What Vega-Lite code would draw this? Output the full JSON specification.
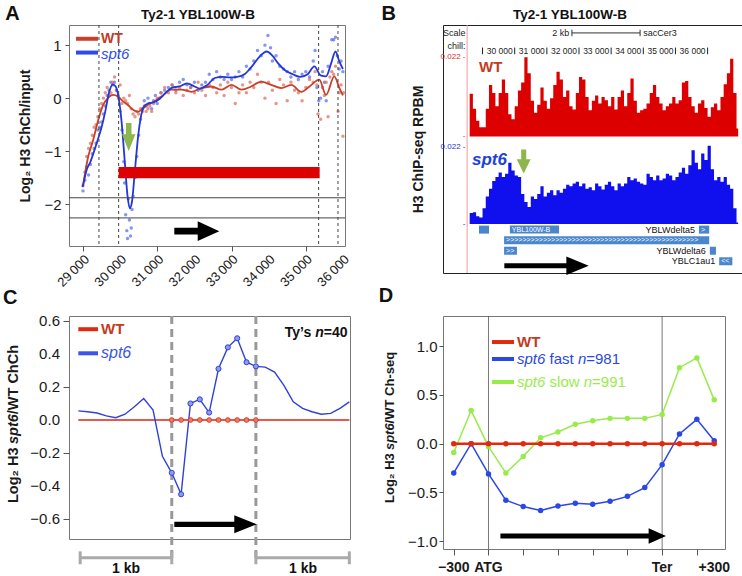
{
"$schema": "https://vega.github.io/schema/vega-lite/v6.json",
"background": "white",
"padding": {"left": 2, "top": 3, "right": 0, "bottom": 0},
"bounds": "flush",
"align": "each",
"columns": 2,
"spacing": {"row": 43, "column": 93},
"config": {
  "font": "Liberation Sans",
  "view": {"stroke": "#777"},
  "axis": {"labelFont": "Liberation Sans", "titleFont": "Liberation Sans", "labelColor": "#1a1a1a", "titleColor": "#1a1a1a", "tickColor": "#555", "domain": false, "grid": false},
  "text": {"font": "Liberation Sans", "baseline": "middle"}
},
"datasets": {
  "aLine": [
    {"s":"WT","pos":29000,"v":-1.66},{"s":"WT","pos":29135,"v":-1.12},{"s":"WT","pos":29270,"v":-0.8},{"s":"WT","pos":29400,"v":-0.44},{"s":"WT","pos":29540,"v":-0.13},{"s":"WT","pos":29670,"v":0.0},{"s":"WT","pos":29810,"v":0.06},{"s":"WT","pos":29940,"v":0.03},{"s":"WT","pos":30080,"v":-0.06},{"s":"WT","pos":30210,"v":-0.13},{"s":"WT","pos":30350,"v":-0.22},{"s":"WT","pos":30480,"v":-0.26},{"s":"WT","pos":30620,"v":-0.19},{"s":"WT","pos":30750,"v":-0.12},{"s":"WT","pos":30930,"v":-0.06},{"s":"WT","pos":31110,"v":0.03},{"s":"WT","pos":31380,"v":0.16},{"s":"WT","pos":31650,"v":0.16},{"s":"WT","pos":31920,"v":0.12},{"s":"WT","pos":32190,"v":0.19},{"s":"WT","pos":32460,"v":0.22},{"s":"WT","pos":32730,"v":0.16},{"s":"WT","pos":33000,"v":0.25},{"s":"WT","pos":33270,"v":0.16},{"s":"WT","pos":33530,"v":0.22},{"s":"WT","pos":33800,"v":0.31},{"s":"WT","pos":34070,"v":0.25},{"s":"WT","pos":34340,"v":0.19},{"s":"WT","pos":34610,"v":0.25},{"s":"WT","pos":34880,"v":0.12},{"s":"WT","pos":35100,"v":0.22},{"s":"WT","pos":35364,"v":0.35},{"s":"WT","pos":35545,"v":0.06},{"s":"WT","pos":35768,"v":0.41},{"s":"WT","pos":35900,"v":0.2},{"s":"WT","pos":36000,"v":0.05},
    {"s":"spt6","pos":28990,"v":-1.68},{"s":"spt6","pos":29100,"v":-1.35},{"s":"spt6","pos":29200,"v":-1.2},{"s":"spt6","pos":29300,"v":-1.0},{"s":"spt6","pos":29400,"v":-0.78},{"s":"spt6","pos":29500,"v":-0.55},{"s":"spt6","pos":29600,"v":-0.25},{"s":"spt6","pos":29700,"v":0.1},{"s":"spt6","pos":29800,"v":0.26},{"s":"spt6","pos":29880,"v":0.22},{"s":"spt6","pos":29960,"v":0.0},{"s":"spt6","pos":30040,"v":-0.45},{"s":"spt6","pos":30120,"v":-1.15},{"s":"spt6","pos":30200,"v":-1.85},{"s":"spt6","pos":30260,"v":-2.08},{"s":"spt6","pos":30320,"v":-1.95},{"s":"spt6","pos":30400,"v":-1.35},{"s":"spt6","pos":30480,"v":-0.75},{"s":"spt6","pos":30560,"v":-0.35},{"s":"spt6","pos":30650,"v":-0.15},{"s":"spt6","pos":30750,"v":-0.1},{"s":"spt6","pos":30900,"v":-0.08},{"s":"spt6","pos":31050,"v":-0.02},{"s":"spt6","pos":31200,"v":0.08},{"s":"spt6","pos":31400,"v":0.2},{"s":"spt6","pos":31600,"v":0.22},{"s":"spt6","pos":31800,"v":0.28},{"s":"spt6","pos":32000,"v":0.22},{"s":"spt6","pos":32150,"v":0.18},{"s":"spt6","pos":32350,"v":0.25},{"s":"spt6","pos":32550,"v":0.38},{"s":"spt6","pos":32750,"v":0.4},{"s":"spt6","pos":32950,"v":0.39},{"s":"spt6","pos":33150,"v":0.4},{"s":"spt6","pos":33350,"v":0.45},{"s":"spt6","pos":33550,"v":0.6},{"s":"spt6","pos":33750,"v":0.78},{"s":"spt6","pos":33950,"v":0.88},{"s":"spt6","pos":34100,"v":0.8},{"s":"spt6","pos":34250,"v":0.66},{"s":"spt6","pos":34450,"v":0.52},{"s":"spt6","pos":34650,"v":0.45},{"s":"spt6","pos":34850,"v":0.4},{"s":"spt6","pos":35050,"v":0.45},{"s":"spt6","pos":35230,"v":0.6},{"s":"spt6","pos":35400,"v":0.43},{"s":"spt6","pos":35545,"v":0.41},{"s":"spt6","pos":35680,"v":0.65},{"s":"spt6","pos":35800,"v":0.88},{"s":"spt6","pos":35900,"v":0.7},{"s":"spt6","pos":36000,"v":0.55}
  ],
  "aDots": [
    {"s":"spt6","pos":29000,"v":-1.75},{"s":"spt6","pos":29050,"v":-1.55},{"s":"spt6","pos":29100,"v":-1.3},{"s":"spt6","pos":29150,"v":-1.45},{"s":"spt6","pos":29200,"v":-1.25},{"s":"spt6","pos":29250,"v":-1.05},{"s":"spt6","pos":29300,"v":-0.95},{"s":"spt6","pos":29350,"v":-0.85},{"s":"spt6","pos":29400,"v":-0.6},{"s":"spt6","pos":29450,"v":-0.55},{"s":"spt6","pos":29500,"v":-0.45},{"s":"spt6","pos":29550,"v":-0.3},{"s":"spt6","pos":29600,"v":-0.15},{"s":"spt6","pos":29650,"v":0.05},{"s":"spt6","pos":29700,"v":0.15},{"s":"spt6","pos":29750,"v":0.3},{"s":"spt6","pos":29800,"v":0.25},{"s":"spt6","pos":29850,"v":0.3},{"s":"spt6","pos":29900,"v":0.15},{"s":"spt6","pos":29950,"v":0.05},{"s":"spt6","pos":30000,"v":-0.25},{"s":"spt6","pos":30050,"v":-0.6},{"s":"spt6","pos":30100,"v":-1.2},{"s":"spt6","pos":30120,"v":-1.6},{"s":"spt6","pos":30150,"v":-2.2},{"s":"spt6","pos":30180,"v":-2.5},{"s":"spt6","pos":30200,"v":-2.65},{"s":"spt6","pos":30220,"v":-1.9},{"s":"spt6","pos":30250,"v":-2.3},{"s":"spt6","pos":30280,"v":-2.6},{"s":"spt6","pos":30300,"v":-2.45},{"s":"spt6","pos":30320,"v":-2.1},{"s":"spt6","pos":30350,"v":-1.85},{"s":"spt6","pos":30400,"v":-1.5},{"s":"spt6","pos":30450,"v":-1.1},{"s":"spt6","pos":30500,"v":-0.7},{"s":"spt6","pos":30550,"v":-0.4},{"s":"spt6","pos":30600,"v":-0.2},{"s":"spt6","pos":30650,"v":-0.05},{"s":"spt6","pos":30700,"v":-0.15},{"s":"spt6","pos":30750,"v":0.0},{"s":"spt6","pos":30800,"v":-0.1},{"s":"spt6","pos":30850,"v":-0.2},{"s":"spt6","pos":30900,"v":-0.05},{"s":"spt6","pos":30950,"v":0.05},{"s":"spt6","pos":31000,"v":-0.1},{"s":"spt6","pos":31050,"v":0.0},{"s":"spt6","pos":31100,"v":0.1},{"s":"spt6","pos":31200,"v":0.15},{"s":"spt6","pos":31300,"v":0.2},{"s":"spt6","pos":31400,"v":0.25},{"s":"spt6","pos":31500,"v":0.15},{"s":"spt6","pos":31600,"v":0.3},{"s":"spt6","pos":31700,"v":0.35},{"s":"spt6","pos":31800,"v":0.25},{"s":"spt6","pos":31900,"v":0.2},{"s":"spt6","pos":32000,"v":0.3},{"s":"spt6","pos":32100,"v":0.15},{"s":"spt6","pos":32200,"v":0.25},{"s":"spt6","pos":32300,"v":0.3},{"s":"spt6","pos":32400,"v":0.45},{"s":"spt6","pos":32500,"v":0.35},{"s":"spt6","pos":32600,"v":0.5},{"s":"spt6","pos":32700,"v":0.4},{"s":"spt6","pos":32800,"v":0.35},{"s":"spt6","pos":32900,"v":0.45},{"s":"spt6","pos":33000,"v":0.35},{"s":"spt6","pos":33100,"v":0.4},{"s":"spt6","pos":33200,"v":0.5},{"s":"spt6","pos":33300,"v":0.4},{"s":"spt6","pos":33400,"v":0.6},{"s":"spt6","pos":33500,"v":0.55},{"s":"spt6","pos":33600,"v":0.7},{"s":"spt6","pos":33700,"v":0.9},{"s":"spt6","pos":33800,"v":0.8},{"s":"spt6","pos":33900,"v":1.0},{"s":"spt6","pos":33980,"v":1.18},{"s":"spt6","pos":34050,"v":0.95},{"s":"spt6","pos":34100,"v":0.7},{"s":"spt6","pos":34200,"v":0.8},{"s":"spt6","pos":34300,"v":0.6},{"s":"spt6","pos":34400,"v":0.55},{"s":"spt6","pos":34500,"v":0.5},{"s":"spt6","pos":34600,"v":0.4},{"s":"spt6","pos":34700,"v":0.5},{"s":"spt6","pos":34800,"v":0.35},{"s":"spt6","pos":34900,"v":0.45},{"s":"spt6","pos":35000,"v":0.5},{"s":"spt6","pos":35100,"v":0.4},{"s":"spt6","pos":35200,"v":0.7},{"s":"spt6","pos":35250,"v":0.9},{"s":"spt6","pos":35300,"v":0.2},{"s":"spt6","pos":35350,"v":-0.05},{"s":"spt6","pos":35400,"v":0.0},{"s":"spt6","pos":35450,"v":0.5},{"s":"spt6","pos":35500,"v":0.3},{"s":"spt6","pos":35550,"v":-0.05},{"s":"spt6","pos":35600,"v":0.6},{"s":"spt6","pos":35700,"v":1.1},{"s":"spt6","pos":35750,"v":1.1},{"s":"spt6","pos":35800,"v":1.15},{"s":"spt6","pos":35850,"v":0.8},{"s":"spt6","pos":35900,"v":0.55},{"s":"spt6","pos":35950,"v":0.7},{"s":"spt6","pos":36000,"v":0.5},
    {"s":"WT","pos":29000,"v":-1.65},{"s":"WT","pos":29050,"v":-1.4},{"s":"WT","pos":29100,"v":-1.1},{"s":"WT","pos":29150,"v":-0.95},{"s":"WT","pos":29200,"v":-0.85},{"s":"WT","pos":29250,"v":-0.7},{"s":"WT","pos":29300,"v":-0.55},{"s":"WT","pos":29350,"v":-0.5},{"s":"WT","pos":29400,"v":-0.35},{"s":"WT","pos":29450,"v":-0.2},{"s":"WT","pos":29500,"v":-0.1},{"s":"WT","pos":29550,"v":0.0},{"s":"WT","pos":29600,"v":0.1},{"s":"WT","pos":29650,"v":0.2},{"s":"WT","pos":29700,"v":0.05},{"s":"WT","pos":29750,"v":0.1},{"s":"WT","pos":29800,"v":0.3},{"s":"WT","pos":29850,"v":0.4},{"s":"WT","pos":29900,"v":0.15},{"s":"WT","pos":29950,"v":0.0},{"s":"WT","pos":30000,"v":0.25},{"s":"WT","pos":30050,"v":-0.1},{"s":"WT","pos":30100,"v":0.0},{"s":"WT","pos":30150,"v":-0.05},{"s":"WT","pos":30200,"v":-0.1},{"s":"WT","pos":30250,"v":0.05},{"s":"WT","pos":30300,"v":-0.2},{"s":"WT","pos":30350,"v":-0.3},{"s":"WT","pos":30400,"v":-0.35},{"s":"WT","pos":30450,"v":-0.25},{"s":"WT","pos":30500,"v":-0.3},{"s":"WT","pos":30550,"v":-0.2},{"s":"WT","pos":30600,"v":-0.25},{"s":"WT","pos":30650,"v":-0.15},{"s":"WT","pos":30700,"v":-0.25},{"s":"WT","pos":30750,"v":-0.2},{"s":"WT","pos":30800,"v":-0.15},{"s":"WT","pos":30850,"v":-0.25},{"s":"WT","pos":30900,"v":-0.1},{"s":"WT","pos":31000,"v":0.0},{"s":"WT","pos":31100,"v":0.1},{"s":"WT","pos":31200,"v":0.2},{"s":"WT","pos":31300,"v":0.1},{"s":"WT","pos":31400,"v":0.25},{"s":"WT","pos":31500,"v":0.1},{"s":"WT","pos":31600,"v":0.2},{"s":"WT","pos":31700,"v":0.05},{"s":"WT","pos":31800,"v":0.15},{"s":"WT","pos":31900,"v":0.2},{"s":"WT","pos":32000,"v":0.1},{"s":"WT","pos":32100,"v":0.3},{"s":"WT","pos":32200,"v":0.15},{"s":"WT","pos":32300,"v":0.05},{"s":"WT","pos":32400,"v":0.25},{"s":"WT","pos":32500,"v":0.2},{"s":"WT","pos":32600,"v":0.1},{"s":"WT","pos":32700,"v":0.25},{"s":"WT","pos":32800,"v":0.05},{"s":"WT","pos":32900,"v":0.3},{"s":"WT","pos":33000,"v":0.2},{"s":"WT","pos":33100,"v":-0.1},{"s":"WT","pos":33200,"v":0.1},{"s":"WT","pos":33300,"v":0.25},{"s":"WT","pos":33400,"v":0.1},{"s":"WT","pos":33500,"v":0.3},{"s":"WT","pos":33600,"v":0.2},{"s":"WT","pos":33700,"v":0.45},{"s":"WT","pos":33800,"v":0.3},{"s":"WT","pos":33900,"v":0.0},{"s":"WT","pos":34000,"v":0.3},{"s":"WT","pos":34100,"v":0.15},{"s":"WT","pos":34200,"v":-0.1},{"s":"WT","pos":34300,"v":0.35},{"s":"WT","pos":34400,"v":0.25},{"s":"WT","pos":34500,"v":-0.05},{"s":"WT","pos":34600,"v":0.3},{"s":"WT","pos":34700,"v":0.15},{"s":"WT","pos":34800,"v":0.1},{"s":"WT","pos":34900,"v":-0.05},{"s":"WT","pos":35000,"v":0.2},{"s":"WT","pos":35100,"v":0.35},{"s":"WT","pos":35200,"v":0.3},{"s":"WT","pos":35250,"v":0.5},{"s":"WT","pos":35300,"v":0.25},{"s":"WT","pos":35330,"v":-0.3},{"s":"WT","pos":35400,"v":-0.4},{"s":"WT","pos":35450,"v":0.2},{"s":"WT","pos":35500,"v":0.05},{"s":"WT","pos":35550,"v":0.3},{"s":"WT","pos":35600,"v":-0.35},{"s":"WT","pos":35650,"v":0.4},{"s":"WT","pos":35700,"v":0.5},{"s":"WT","pos":35750,"v":0.45},{"s":"WT","pos":35800,"v":0.6},{"s":"WT","pos":35870,"v":-0.25},{"s":"WT","pos":35900,"v":0.1},{"s":"WT","pos":35950,"v":0.25},{"s":"WT","pos":36000,"v":-0.72},{"s":"WT","pos":36020,"v":0.1}
  ],
  "bTrack": [
    {"kb":28.6,"wt":0.0119,"sp":0.0031},{"kb":28.7,"wt":0.0077,"sp":0.0033},{"kb":28.8,"wt":0.0044,"sp":0.0022},{"kb":28.9,"wt":0.0026,"sp":0.0018},{"kb":29.0,"wt":0.0026,"sp":0.0044},{"kb":29.1,"wt":0.0077,"sp":0.0077},{"kb":29.2,"wt":0.0143,"sp":0.0099},{"kb":29.3,"wt":0.0121,"sp":0.0121},{"kb":29.4,"wt":0.0084,"sp":0.0132},{"kb":29.5,"wt":0.0121,"sp":0.0145},{"kb":29.6,"wt":0.0158,"sp":0.0132},{"kb":29.7,"wt":0.0121,"sp":0.0141},{"kb":29.8,"wt":0.0062,"sp":0.0172},{"kb":29.9,"wt":0.0048,"sp":0.015},{"kb":30.0,"wt":0.0084,"sp":0.0136},{"kb":30.1,"wt":0.0128,"sp":0.0132},{"kb":30.2,"wt":0.015,"sp":0.0084},{"kb":30.3,"wt":0.022,"sp":0.0062},{"kb":30.4,"wt":0.0176,"sp":0.0048},{"kb":30.5,"wt":0.0099,"sp":0.0077},{"kb":30.6,"wt":0.0066,"sp":0.007},{"kb":30.7,"wt":0.0088,"sp":0.0084},{"kb":30.8,"wt":0.0136,"sp":0.0106},{"kb":30.9,"wt":0.0099,"sp":0.0077},{"kb":31.0,"wt":0.0077,"sp":0.0088},{"kb":31.1,"wt":0.0106,"sp":0.0095},{"kb":31.2,"wt":0.0143,"sp":0.0081},{"kb":31.3,"wt":0.018,"sp":0.0095},{"kb":31.4,"wt":0.0158,"sp":0.0088},{"kb":31.5,"wt":0.011,"sp":0.0099},{"kb":31.6,"wt":0.0128,"sp":0.011},{"kb":31.7,"wt":0.0084,"sp":0.0106},{"kb":31.8,"wt":0.0075,"sp":0.0114},{"kb":31.9,"wt":0.0121,"sp":0.0119},{"kb":32.0,"wt":0.0165,"sp":0.0106},{"kb":32.1,"wt":0.0158,"sp":0.0114},{"kb":32.2,"wt":0.011,"sp":0.0099},{"kb":32.3,"wt":0.0073,"sp":0.0103},{"kb":32.4,"wt":0.0099,"sp":0.0095},{"kb":32.5,"wt":0.0114,"sp":0.0114},{"kb":32.6,"wt":0.0092,"sp":0.0106},{"kb":32.7,"wt":0.011,"sp":0.0097},{"kb":32.8,"wt":0.0101,"sp":0.011},{"kb":32.9,"wt":0.0084,"sp":0.0119},{"kb":33.0,"wt":0.011,"sp":0.0106},{"kb":33.1,"wt":0.0075,"sp":0.0095},{"kb":33.2,"wt":0.011,"sp":0.0114},{"kb":33.3,"wt":0.0128,"sp":0.0106},{"kb":33.4,"wt":0.0084,"sp":0.0114},{"kb":33.5,"wt":0.0121,"sp":0.0132},{"kb":33.6,"wt":0.0161,"sp":0.0123},{"kb":33.7,"wt":0.0099,"sp":0.0128},{"kb":33.8,"wt":0.0066,"sp":0.0119},{"kb":33.9,"wt":0.0073,"sp":0.0114},{"kb":34.0,"wt":0.0077,"sp":0.011},{"kb":34.1,"wt":0.0092,"sp":0.0141},{"kb":34.2,"wt":0.0121,"sp":0.0132},{"kb":34.3,"wt":0.0143,"sp":0.0123},{"kb":34.4,"wt":0.011,"sp":0.0136},{"kb":34.5,"wt":0.0092,"sp":0.0123},{"kb":34.6,"wt":0.0073,"sp":0.0128},{"kb":34.7,"wt":0.0084,"sp":0.0141},{"kb":34.8,"wt":0.0092,"sp":0.0136},{"kb":34.9,"wt":0.011,"sp":0.0123},{"kb":35.0,"wt":0.0092,"sp":0.0132},{"kb":35.1,"wt":0.0101,"sp":0.0145},{"kb":35.2,"wt":0.015,"sp":0.0158},{"kb":35.3,"wt":0.0154,"sp":0.0141},{"kb":35.4,"wt":0.011,"sp":0.0165},{"kb":35.5,"wt":0.0084,"sp":0.0207},{"kb":35.6,"wt":0.0066,"sp":0.0172},{"kb":35.7,"wt":0.0092,"sp":0.0154},{"kb":35.8,"wt":0.0101,"sp":0.0198},{"kb":35.9,"wt":0.0079,"sp":0.018},{"kb":36.0,"wt":0.0055,"sp":0.022},{"kb":36.1,"wt":0.0081,"sp":0.0154},{"kb":36.2,"wt":0.0092,"sp":0.0123},{"kb":36.3,"wt":0.0073,"sp":0.0132},{"kb":36.4,"wt":0.011,"sp":0.0119},{"kb":36.5,"wt":0.0145,"sp":0.0132},{"kb":36.6,"wt":0.0176,"sp":0.011},{"kb":36.7,"wt":0.0216,"sp":0.0099},{"kb":36.8,"wt":0.0121,"sp":0.0044},{"kb":36.9,"wt":0.0022,"sp":0.0004},{"kb":36.95,"wt":0,"sp":0}
  ],
  "bGenes": [
    {"s":28.89,"e":29.2,"lane":1,"lab":""},
    {"s":29.85,"e":31.38,"lane":1,"lab":"YBL100W-B"},
    {"s":35.73,"e":36.05,"lane":1,"lab":">"},
    {"s":29.67,"e":36.05,"lane":2,"lab":">>>>>>>>>>>>>>>>>>>>>>>>>>>>>>>>>>>>>>>>>>>>>>>"},
    {"s":29.67,"e":30.07,"lane":3,"lab":">>"},
    {"s":36.07,"e":36.26,"lane":3,"lab":""},
    {"s":36.36,"e":36.77,"lane":4,"lab":"<<"}
  ],
  "bNames": [
    {"kb":35.73,"lane":1,"name":"YBLWdelta5"},
    {"kb":36.07,"lane":3,"name":"YBLWdelta6"},
    {"kb":36.36,"lane":4,"name":"YBLC1au1"}
  ],
  "bPos": [
    {"kb":29,"lab":""},{"kb":30,"lab":"30 000"},{"kb":31,"lab":"31 000"},{"kb":32,"lab":"32 000"},{"kb":33,"lab":"33 000"},{"kb":34,"lab":"34 000"},{"kb":35,"lab":"35 000"},{"kb":36,"lab":"36 000"}
  ],
  "cData": [
    {"i":0,"wt":0,"sp":0.055},{"i":1,"wt":0,"sp":0.05},{"i":2,"wt":0,"sp":0.042},{"i":3,"wt":0,"sp":0.025},{"i":4,"wt":0,"sp":0.014},{"i":5,"wt":0,"sp":0.035},{"i":6,"wt":0,"sp":0.08},{"i":7,"wt":0,"sp":0.13},{"i":8,"wt":0,"sp":0.06},{"i":9,"wt":0,"sp":-0.22},{"i":10,"wt":0,"sp":-0.32},{"i":11,"wt":0,"sp":-0.45},{"i":12,"wt":0,"sp":0.1},{"i":13,"wt":0,"sp":0.125},{"i":14,"wt":0,"sp":0.045},{"i":15,"wt":0,"sp":0.31},{"i":16,"wt":0,"sp":0.44},{"i":17,"wt":0,"sp":0.495},{"i":18,"wt":0,"sp":0.35},{"i":19,"wt":0,"sp":0.325},{"i":20,"wt":0,"sp":0.32},{"i":21,"wt":0,"sp":0.29},{"i":22,"wt":0,"sp":0.21},{"i":23,"wt":0,"sp":0.11},{"i":24,"wt":0,"sp":0.07},{"i":25,"wt":0,"sp":0.05},{"i":26,"wt":0,"sp":0.035},{"i":27,"wt":0,"sp":0.04},{"i":28,"wt":0,"sp":0.07},{"i":29,"wt":0,"sp":0.11}
  ],
  "dData": [
    {"i":0,"wt":0,"fast":-0.3,"slow":-0.09},{"i":1,"wt":0,"fast":0.0,"slow":0.34},{"i":2,"wt":0,"fast":-0.31,"slow":-0.03},{"i":3,"wt":0,"fast":-0.58,"slow":-0.3},{"i":4,"wt":0,"fast":-0.645,"slow":-0.13},{"i":5,"wt":0,"fast":-0.686,"slow":0.06},{"i":6,"wt":0,"fast":-0.64,"slow":0.12},{"i":7,"wt":0,"fast":-0.61,"slow":0.2},{"i":8,"wt":0,"fast":-0.62,"slow":0.235},{"i":9,"wt":0,"fast":-0.59,"slow":0.26},{"i":10,"wt":0,"fast":-0.54,"slow":0.26},{"i":11,"wt":0,"fast":-0.45,"slow":0.26},{"i":12,"wt":0,"fast":-0.215,"slow":0.3},{"i":13,"wt":0,"fast":0.1,"slow":0.78},{"i":14,"wt":0,"fast":0.25,"slow":0.88},{"i":15,"wt":0,"fast":0.03,"slow":0.45}
  ]
},
"concat": [
  {
   "width": 276, "height": 221,
   "view": {"stroke": "#777"},
   "data": {"values": [{}]},
   "layer": [
    {"data": {"name": "aDots"}, "mark": {"type": "circle", "size": 12, "opacity": 0.7},
     "encoding": {
      "x": {"field": "pos", "type": "quantitative", "scale": {"domain": [28623, 36056], "nice": false, "zero": false},
            "axis": {"values": [29000,30000,31000,32000,33000,34000,35000,36000], "labels": false, "tickSize": 5, "title": null}},
      "y": {"field": "v", "type": "quantitative", "scale": {"domain": [-2.79, 1.38], "nice": false, "zero": false},
            "axis": {"values": [-2,-1,0,1], "format": "d", "labelExpr": "replace(datum.label,'-','\u2212')", "labelFontSize": 15, "tickSize": 4, "labelPadding": 4, "title": "Log₂ H3 ChCh/input", "titleFontSize": 14, "titleFontWeight": "bold", "titlePadding": 11}},
      "fill": {"field": "s", "type": "nominal", "scale": {"domain": ["WT","spt6"], "range": ["#dc6a55","#5068ec"]}, "legend": null}
     }},
    {"data": {"name": "aLine"}, "mark": {"type": "line", "interpolate": "monotone", "strokeWidth": 1.8},
     "encoding": {
      "x": {"field": "pos", "type": "quantitative"},
      "y": {"field": "v", "type": "quantitative"},
      "stroke": {"field": "s", "type": "nominal", "scale": {"domain": ["WT","spt6"], "range": ["#c8402a","#2336d6"]}, "legend": null}
     }},
    {"data": {"values": [{"p":29000,"lab":"29\u2009000"},{"p":30000,"lab":"30\u2009000"},{"p":31000,"lab":"31\u2009000"},{"p":32000,"lab":"32\u2009000"},{"p":33000,"lab":"33\u2009000"},{"p":34000,"lab":"34\u2009000"},{"p":35000,"lab":"35\u2009000"},{"p":36000,"lab":"36\u2009000"}]},
     "mark": {"type": "text", "angle": 315, "align": "right", "baseline": "top", "fontSize": 13, "color": "#1a1a1a"},
     "encoding": {"x": {"field": "p", "type": "quantitative"}, "y": {"datum": -2.922}, "text": {"field": "lab"}}},
    {"mark": {"type": "rule", "color": "#444", "strokeWidth": 1}, "encoding": {"y": {"datum": -1.88}}},
    {"mark": {"type": "rule", "color": "#444", "strokeWidth": 1}, "encoding": {"y": {"datum": -2.26}}},
    {"data": {"values": [{"b": 29430}, {"b": 29960}, {"b": 35346}, {"b": 35867}]}, "mark": {"type": "rule", "color": "#444", "strokeWidth": 1, "strokeDash": [3, 3]}, "encoding": {"x": {"field": "b", "type": "quantitative"}}},
    {"mark": {"type": "rect", "color": "#dd0000"}, "encoding": {"x": {"datum": 29960}, "x2": {"datum": 35373}, "y": {"datum": -1.3}, "y2": {"datum": -1.51}}},
    {"mark": {"type": "point", "filled": true, "opacity": 1, "color": "#000", "strokeWidth": 0, "size": 2025, "shape": "M-1,-0.15L0.04,-0.15L0.04,-0.44L1,0L0.04,0.44L0.04,0.15L-1,0.15Z"}, "encoding": {"x": {"datum": 32065}, "y": {"datum": -2.51}}},
    {"mark": {"type": "point", "filled": true, "opacity": 1, "color": "#8db64c", "strokeWidth": 0, "size": 784, "shape": "M-0.2,-1L0.2,-1L0.2,-0.19L0.48,-0.19L0,1L-0.48,-0.19L-0.2,-0.19Z"}, "encoding": {"x": {"datum": 30231}, "y": {"datum": -0.733}}},
    {"mark": {"type": "rule", "color": "#c8402a", "strokeWidth": 4}, "encoding": {"x": {"datum": 28812}, "x2": {"datum": 29404}, "y": {"datum": 1.12}}},
    {"mark": {"type": "text", "align": "left", "fontSize": 14, "fontWeight": "bold", "color": "#c23b22", "text": "WT"}, "encoding": {"x": {"datum": 29485}, "y": {"datum": 1.12}}},
    {"mark": {"type": "rule", "color": "#2e4be6", "strokeWidth": 4}, "encoding": {"x": {"datum": 28812}, "x2": {"datum": 29404}, "y": {"datum": 0.86}}},
    {"mark": {"type": "text", "align": "left", "fontSize": 15, "fontStyle": "italic", "color": "#2e4be6", "text": "spt6"}, "encoding": {"x": {"datum": 29485}, "y": {"datum": 0.83}}},
    {"mark": {"type": "text", "align": "center", "fontSize": 13.5, "fontWeight": "bold", "color": "#111", "text": "Ty2-1 YBL100W-B"}, "encoding": {"x": {"datum": 32097}, "y": {"datum": 1.57}}},
    {"mark": {"type": "text", "align": "center", "fontSize": 20, "fontWeight": "bold", "color": "#111", "text": "A"}, "encoding": {"x": {"datum": 27101}, "y": {"datum": 1.58}}}
   ]
  },
  {
   "width": 299, "height": 248,
   "view": {"stroke": "#222"},
   "data": {"values": [{}]},
   "resolve": {"scale": {"y": "independent"}},
   "layer": [
    {"data": {"name": "bTrack"}, "mark": {"type": "area", "interpolate": "step-after", "color": "#dd0000"},
     "encoding": {
      "x": {"field": "kb", "type": "quantitative", "scale": {"domain": [27.77, 37.07], "nice": false, "zero": false}, "axis": {"labels": false, "ticks": false, "domain": false, "title": null}},
      "y": {"field": "wt", "type": "quantitative", "scale": {"domain": [-0.03791, 0.03097], "nice": false, "zero": false}, "axis": null},
      "y2": {"datum": 0}
     }},
    {"data": {"name": "bTrack"}, "mark": {"type": "area", "interpolate": "step-after", "color": "#1010ee"},
     "encoding": {
      "x": {"field": "kb", "type": "quantitative"},
      "y": {"field": "sp", "type": "quantitative", "scale": {"domain": [-0.01377, 0.05592], "nice": false, "zero": false}, "axis": null},
      "y2": {"datum": 0}
     }},
    {"layer": [
      {"mark": {"type": "rule", "color": "#f29a9a", "strokeWidth": 1}, "encoding": {"x": {"datum": 28.52}, "y": {"datum": 0, "scale": {"domain": [0, 100], "nice": false, "zero": false}, "axis": {"orient": "left", "title": "H3 ChIP-seq RPBM", "labels": false, "ticks": false, "domain": false, "titleFontSize": 14, "titleFontWeight": "bold", "titlePadding": 18}}, "y2": {"datum": 100}}},
      {"mark": {"type": "text", "align": "right", "fontSize": 9, "color": "#222", "text": "Scale"}, "encoding": {"x": {"datum": 28.47}, "y": {"datum": 96.8}}},
      {"mark": {"type": "text", "align": "right", "fontSize": 9, "color": "#222", "text": "chill:"}, "encoding": {"x": {"datum": 28.47}, "y": {"datum": 91.5}}},
      {"mark": {"type": "text", "align": "right", "fontSize": 9, "color": "#222", "text": "2 kb"}, "encoding": {"x": {"datum": 31.7}, "y": {"datum": 96.8}}},
      {"mark": {"type": "rule", "color": "#333", "strokeWidth": 1}, "encoding": {"x": {"datum": 31.78}, "x2": {"datum": 33.9}, "y": {"datum": 96.8}}},
      {"mark": {"type": "rule", "color": "#333", "strokeWidth": 1}, "encoding": {"x": {"datum": 31.78}, "y": {"datum": 95.5}, "y2": {"datum": 98.1}}},
      {"mark": {"type": "rule", "color": "#333", "strokeWidth": 1}, "encoding": {"x": {"datum": 33.9}, "y": {"datum": 95.5}, "y2": {"datum": 98.1}}},
      {"mark": {"type": "text", "align": "left", "fontSize": 9, "color": "#222", "text": "sacCer3"}, "encoding": {"x": {"datum": 34.0}, "y": {"datum": 96.8}}},
      {"data": {"name": "bPos"}, "mark": {"type": "rule", "color": "#222", "strokeWidth": 1}, "encoding": {"x": {"field": "kb", "type": "quantitative"}, "y": {"datum": 88.2}, "y2": {"datum": 90.9}}},
      {"data": {"name": "bPos"}, "mark": {"type": "text", "align": "right", "dx": -2, "fontSize": 8.5, "color": "#222"}, "encoding": {"x": {"field": "kb", "type": "quantitative"}, "y": {"datum": 89.5}, "text": {"field": "lab"}}},
      {"mark": {"type": "text", "align": "right", "fontSize": 8, "color": "#d03030", "text": "0.022 -"}, "encoding": {"x": {"datum": 28.47}, "y": {"datum": 87.1}}},
      {"mark": {"type": "text", "align": "right", "fontSize": 8, "color": "#d03030", "text": "-"}, "encoding": {"x": {"datum": 28.47}, "y": {"datum": 55.2}}},
      {"mark": {"type": "text", "align": "right", "fontSize": 8, "color": "#3030d0", "text": "0.022 -"}, "encoding": {"x": {"datum": 28.47}, "y": {"datum": 50.8}}},
      {"mark": {"type": "text", "align": "right", "fontSize": 8, "color": "#3030d0", "text": "-"}, "encoding": {"x": {"datum": 28.47}, "y": {"datum": 19.8}}},
      {"mark": {"type": "text", "align": "left", "fontSize": 15, "fontWeight": "bold", "color": "#c23b22", "text": "WT"}, "encoding": {"x": {"datum": 28.89}, "y": {"datum": 83.1}}},
      {"mark": {"type": "text", "align": "left", "fontSize": 17, "fontWeight": "bold", "fontStyle": "italic", "color": "#2040e0", "text": "spt6"}, "encoding": {"x": {"datum": 28.67}, "y": {"datum": 45.6}}},
      {"mark": {"type": "point", "filled": true, "opacity": 1, "color": "#8db64c", "strokeWidth": 0, "size": 576, "shape": "M-0.21,-1L0.21,-1L0.21,-0.17L0.58,-0.17L0,1L-0.58,-0.17L-0.21,-0.17Z"}, "encoding": {"x": {"datum": 30.28}, "y": {"datum": 45.0}}},
      {"mark": {"type": "point", "filled": true, "opacity": 1, "color": "#000", "strokeWidth": 0, "size": 7123, "shape": "M-1,-0.06L0.47,-0.06L0.47,-0.22L1,0L0.47,0.22L0.47,0.06L-1,0.06Z"}, "encoding": {"x": {"datum": 30.99}, "y": {"datum": 2.94}}},
      {"mark": {"type": "text", "align": "center", "fontSize": 13.5, "fontWeight": "bold", "color": "#111", "text": "Ty2-1 YBL100W-B"}, "encoding": {"x": {"datum": 31.72}, "y": {"datum": 104.0}}},
      {"mark": {"type": "text", "align": "center", "fontSize": 20, "fontWeight": "bold", "color": "#111", "text": "B"}, "encoding": {"x": {"datum": 26.08}, "y": {"datum": 104.3}}}
    ]},
    {"layer": [
      {"data": {"name": "bGenes"}, "mark": {"type": "bar", "orient": "horizontal", "size": 8, "color": "#4a86cc"},
       "encoding": {"x": {"field": "s", "type": "quantitative"}, "x2": {"field": "e"}, "y": {"field": "lane", "type": "quantitative", "scale": {"domain": [-17.909, 4.636], "reverse": true, "nice": false, "zero": false}, "axis": {"labels": false, "ticks": false, "domain": false, "title": null}}}},
      {"data": {"name": "bGenes"}, "mark": {"type": "text", "align": "left", "dx": 2, "fontSize": 7, "color": "white"},
       "encoding": {"x": {"field": "s", "type": "quantitative"}, "y": {"field": "lane", "type": "quantitative"}, "text": {"field": "lab"}}},
      {"data": {"name": "bNames"}, "mark": {"type": "text", "align": "right", "dx": -4, "fontSize": 9, "color": "#111"},
       "encoding": {"x": {"field": "kb", "type": "quantitative"}, "y": {"field": "lane", "type": "quantitative"}, "text": {"field": "name"}}}
    ]}
   ]
  },
  {
   "width": 281, "height": 223,
   "view": {"stroke": "#777"},
   "data": {"values": [{}]},
   "layer": [
    {"data": {"name": "cData"}, "mark": {"type": "line", "color": "#e02010", "strokeWidth": 1.5},
     "encoding": {
      "x": {"field": "i", "type": "quantitative", "scale": {"domain": [-0.995, 29.07], "nice": false, "zero": false}, "axis": {"labels": false, "ticks": false, "domain": false, "title": null}},
      "y": {"field": "wt", "type": "quantitative", "scale": {"domain": [-0.721, 0.63], "nice": false, "zero": false},
            "axis": {"values": [-0.6,-0.4,-0.2,0,0.2,0.4,0.6], "labels": false, "tickSize": 6, "title": null}}
     }},
    {"data": {"values": [{"t":-0.6},{"t":-0.4},{"t":-0.2},{"t":0},{"t":0.2},{"t":0.4},{"t":0.6}]},
     "mark": {"type": "text", "align": "right", "fontSize": 15, "color": "#1a1a1a"},
     "encoding": {"x": {"datum": -1.96}, "y": {"field": "t", "type": "quantitative"}, "text": {"field": "t", "type": "quantitative", "format": ".1f"}}},
    {"mark": {"type": "rule", "color": "#999", "strokeWidth": 3, "strokeDash": [8, 5]}, "encoding": {"x": {"datum": 10}, "y": {"datum": 0.63}, "y2": {"datum": -0.865}}},
    {"mark": {"type": "rule", "color": "#999", "strokeWidth": 3, "strokeDash": [8, 5]}, "encoding": {"x": {"datum": 19}, "y": {"datum": 0.63}, "y2": {"datum": -0.865}}},
    {"data": {"name": "cData"}, "mark": {"type": "line", "color": "#3040d8", "strokeWidth": 1.4},
     "encoding": {"x": {"field": "i", "type": "quantitative"}, "y": {"field": "sp", "type": "quantitative"}}},
    {"data": {"name": "cData"}, "transform": [{"filter": "datum.i >= 10 && datum.i <= 19"}], "mark": {"type": "point", "filled": true, "size": 22, "color": "#f07a66", "stroke": "#d83a28", "strokeWidth": 1, "opacity": 1},
     "encoding": {"x": {"field": "i", "type": "quantitative"}, "y": {"field": "wt", "type": "quantitative"}}},
    {"data": {"name": "cData"}, "transform": [{"filter": "datum.i >= 10 && datum.i <= 19"}], "mark": {"type": "point", "filled": true, "size": 26, "color": "#8d9af2", "stroke": "#3040d8", "strokeWidth": 1, "opacity": 1},
     "encoding": {"x": {"field": "i", "type": "quantitative"}, "y": {"field": "sp", "type": "quantitative"}}},
    {"mark": {"type": "rule", "color": "#aaa", "strokeWidth": 3}, "encoding": {"x": {"datum": 0.2}, "x2": {"datum": 10}, "y": {"datum": -0.835}}},
    {"mark": {"type": "rule", "color": "#aaa", "strokeWidth": 3}, "encoding": {"x": {"datum": 19}, "x2": {"datum": 29}, "y": {"datum": -0.835}}},
    {"data": {"values": [{"b": 0.2}, {"b": 10}, {"b": 19}, {"b": 29}]}, "mark": {"type": "rule", "color": "#aaa", "strokeWidth": 3}, "encoding": {"x": {"field": "b", "type": "quantitative"}, "y": {"datum": -0.796}, "y2": {"datum": -0.874}}},
    {"mark": {"type": "text", "align": "center", "fontSize": 14, "fontWeight": "bold", "color": "#111", "text": "1 kb"}, "encoding": {"x": {"datum": 5.1}, "y": {"datum": -0.905}}},
    {"mark": {"type": "text", "align": "center", "fontSize": 14, "fontWeight": "bold", "color": "#111", "text": "1 kb"}, "encoding": {"x": {"datum": 24.05}, "y": {"datum": -0.905}}},
    {"mark": {"type": "point", "filled": true, "opacity": 1, "color": "#000", "strokeWidth": 0, "size": 6790, "shape": "M-1,-0.064L0.456,-0.064L0.456,-0.218L1,0L0.456,0.218L0.456,0.064L-1,0.064Z"}, "encoding": {"x": {"datum": 14.68}, "y": {"datum": -0.632}}},
    {"mark": {"type": "rule", "color": "#e02a10", "strokeWidth": 4}, "encoding": {"x": {"datum": 0}, "x2": {"datum": 2.11}, "y": {"datum": 0.55}}},
    {"mark": {"type": "text", "align": "left", "fontSize": 15, "fontWeight": "bold", "color": "#c23b22", "text": "WT"}, "encoding": {"x": {"datum": 2.43}, "y": {"datum": 0.55}}},
    {"mark": {"type": "rule", "color": "#3a55e8", "strokeWidth": 4}, "encoding": {"x": {"datum": 0}, "x2": {"datum": 2.11}, "y": {"datum": 0.404}}},
    {"mark": {"type": "text", "align": "left", "fontSize": 16, "fontStyle": "italic", "color": "#3a55e8", "text": "spt6"}, "encoding": {"x": {"datum": 2.43}, "y": {"datum": 0.404}}},
    {"mark": {"type": "text", "align": "right", "fontSize": 14, "fontWeight": "bold", "color": "#111", "text": "=40"}, "encoding": {"x": {"datum": 28.8}, "y": {"datum": 0.529}}},
    {"mark": {"type": "text", "align": "right", "dx": -23.7, "fontSize": 14, "fontWeight": "bold", "fontStyle": "italic", "color": "#111", "text": "n"}, "encoding": {"x": {"datum": 28.8}, "y": {"datum": 0.529}}},
    {"mark": {"type": "text", "align": "right", "dx": -36.2, "fontSize": 14, "fontWeight": "bold", "color": "#111", "text": "Ty’s"}, "encoding": {"x": {"datum": 28.8}, "y": {"datum": 0.529}}},
    {"mark": {"type": "text", "align": "left", "angle": 270, "fontSize": 14.5, "fontWeight": "bold", "color": "#1a1a1a", "text": "Log₂ H3"}, "encoding": {"x": {"datum": -6.88}, "y": {"datum": -0.503}}},
    {"mark": {"type": "text", "align": "left", "angle": 270, "dx": 59, "fontSize": 14.5, "fontWeight": "bold", "fontStyle": "italic", "color": "#1a1a1a", "text": "spt6"}, "encoding": {"x": {"datum": -6.88}, "y": {"datum": -0.503}}},
    {"mark": {"type": "text", "align": "left", "angle": 270, "dx": 88.8, "fontSize": 14.5, "fontWeight": "bold", "color": "#1a1a1a", "text": "/WT ChCh"}, "encoding": {"x": {"datum": -6.88}, "y": {"datum": -0.503}}},
    {"mark": {"type": "text", "align": "center", "fontSize": 20, "fontWeight": "bold", "color": "#111", "text": "C"}, "encoding": {"x": {"datum": -7.29}, "y": {"datum": 0.741}}}
   ]
  },
  {
   "width": 282, "height": 233,
   "view": {"stroke": "#777"},
   "data": {"values": [{}]},
   "layer": [
    {"data": {"values": [{"b": 2}, {"b": 12}]}, "mark": {"type": "rule", "color": "#555", "strokeWidth": 0.8},
     "encoding": {"x": {"field": "b", "type": "quantitative", "scale": {"domain": [-0.62, 15.62], "nice": false, "zero": false},
       "axis": {"values": [0,1,2,3,4,5,6,7,8,9,10,11,12,13,14,15], "labels": false, "tickSize": 6, "title": null}}}},
    {"data": {"values": [{"k": 0, "lab": "\u2212300"}, {"k": 2, "lab": "ATG"}, {"k": 12, "lab": "Ter"}, {"k": 15, "lab": "+300"}]},
     "mark": {"type": "text", "align": "center", "baseline": "top", "fontSize": 14, "fontWeight": "bold", "color": "#1a1a1a"},
     "encoding": {"x": {"field": "k", "type": "quantitative"}, "y": {"datum": -1.2}, "text": {"field": "lab"}}},
    {"data": {"name": "dData"}, "mark": {"type": "line", "color": "#98ec4a", "strokeWidth": 1.5},
     "encoding": {"x": {"field": "i", "type": "quantitative"},
      "y": {"field": "slow", "type": "quantitative", "scale": {"domain": [-1.08, 1.31], "nice": false, "zero": false},
            "axis": {"values": [-1,-0.5,0,0.5,1], "format": ".1f", "labelExpr": "replace(datum.label,'-','\u2212')", "labelFontSize": 15, "tickSize": 4, "labelPadding": 2, "title": null}}}},
    {"data": {"name": "dData"}, "mark": {"type": "circle", "size": 30, "color": "#98ec4a", "opacity": 1}, "encoding": {"x": {"field": "i", "type": "quantitative"}, "y": {"field": "slow", "type": "quantitative"}}},
    {"data": {"name": "dData"}, "mark": {"type": "line", "color": "#2a47e8", "strokeWidth": 1.5}, "encoding": {"x": {"field": "i", "type": "quantitative"}, "y": {"field": "fast", "type": "quantitative"}}},
    {"data": {"name": "dData"}, "mark": {"type": "circle", "size": 30, "color": "#2a47e8", "opacity": 1}, "encoding": {"x": {"field": "i", "type": "quantitative"}, "y": {"field": "fast", "type": "quantitative"}}},
    {"data": {"name": "dData"}, "mark": {"type": "line", "color": "#e02a10", "strokeWidth": 2.5}, "encoding": {"x": {"field": "i", "type": "quantitative"}, "y": {"field": "wt", "type": "quantitative"}}},
    {"data": {"name": "dData"}, "mark": {"type": "circle", "size": 30, "color": "#e02a10", "opacity": 1}, "encoding": {"x": {"field": "i", "type": "quantitative"}, "y": {"field": "wt", "type": "quantitative"}}},
    {"mark": {"type": "point", "filled": true, "opacity": 1, "color": "#000", "strokeWidth": 0, "size": 27423, "shape": "M-1,-0.03L0.79,-0.03L0.79,-0.093L1,0L0.79,0.093L0.79,0.03L-1,0.03Z"}, "encoding": {"x": {"datum": 7.455}, "y": {"datum": -0.947}}},
    {"mark": {"type": "rule", "color": "#e02a10", "strokeWidth": 4}, "encoding": {"x": {"datum": 2.2}, "x2": {"datum": 3.47}, "y": {"datum": 1.043}}},
    {"mark": {"type": "text", "align": "left", "fontSize": 15, "fontWeight": "bold", "color": "#c23b22", "text": "WT"}, "encoding": {"x": {"datum": 3.64}, "y": {"datum": 1.043}}},
    {"mark": {"type": "rule", "color": "#2a47e8", "strokeWidth": 4}, "encoding": {"x": {"datum": 2.2}, "x2": {"datum": 3.47}, "y": {"datum": 0.869}}},
    {"mark": {"type": "text", "align": "left", "fontSize": 15, "fontStyle": "italic", "color": "#2a47e8", "text": "spt6"}, "encoding": {"x": {"datum": 3.64}, "y": {"datum": 0.869}}},
    {"mark": {"type": "text", "align": "left", "dx": 32.6, "fontSize": 15, "color": "#2a47e8", "text": "fast"}, "encoding": {"x": {"datum": 3.64}, "y": {"datum": 0.869}}},
    {"mark": {"type": "text", "align": "left", "dx": 61, "fontSize": 15, "fontStyle": "italic", "color": "#2a47e8", "text": "n"}, "encoding": {"x": {"datum": 3.64}, "y": {"datum": 0.869}}},
    {"mark": {"type": "text", "align": "left", "dx": 69.3, "fontSize": 15, "color": "#2a47e8", "text": "=981"}, "encoding": {"x": {"datum": 3.64}, "y": {"datum": 0.869}}},
    {"mark": {"type": "rule", "color": "#98ec4a", "strokeWidth": 4}, "encoding": {"x": {"datum": 2.2}, "x2": {"datum": 3.47}, "y": {"datum": 0.633}}},
    {"mark": {"type": "text", "align": "left", "fontSize": 15, "fontStyle": "italic", "color": "#98ec4a", "text": "spt6"}, "encoding": {"x": {"datum": 3.64}, "y": {"datum": 0.633}}},
    {"mark": {"type": "text", "align": "left", "dx": 32.6, "fontSize": 15, "color": "#98ec4a", "text": "slow"}, "encoding": {"x": {"datum": 3.64}, "y": {"datum": 0.633}}},
    {"mark": {"type": "text", "align": "left", "dx": 66.8, "fontSize": 15, "fontStyle": "italic", "color": "#98ec4a", "text": "n"}, "encoding": {"x": {"datum": 3.64}, "y": {"datum": 0.633}}},
    {"mark": {"type": "text", "align": "left", "dx": 75.1, "fontSize": 15, "color": "#98ec4a", "text": "=991"}, "encoding": {"x": {"datum": 3.64}, "y": {"datum": 0.633}}},
    {"mark": {"type": "text", "align": "left", "angle": 270, "fontSize": 13, "fontWeight": "bold", "color": "#1a1a1a", "text": "Log₂ H3"}, "encoding": {"x": {"datum": -3.667}, "y": {"datum": -0.608}}},
    {"mark": {"type": "text", "align": "left", "angle": 270, "dx": 52.9, "fontSize": 13, "fontWeight": "bold", "fontStyle": "italic", "color": "#1a1a1a", "text": "spt6"}, "encoding": {"x": {"datum": -3.667}, "y": {"datum": -0.608}}},
    {"mark": {"type": "text", "align": "left", "angle": 270, "dx": 79.6, "fontSize": 13, "fontWeight": "bold", "color": "#1a1a1a", "text": "/WT Ch-seq"}, "encoding": {"x": {"datum": -3.667}, "y": {"datum": -0.608}}},
    {"mark": {"type": "text", "align": "center", "fontSize": 20, "fontWeight": "bold", "color": "#111", "text": "D"}, "encoding": {"x": {"datum": -3.9}, "y": {"datum": 1.515}}}
   ]
  }
]
}
